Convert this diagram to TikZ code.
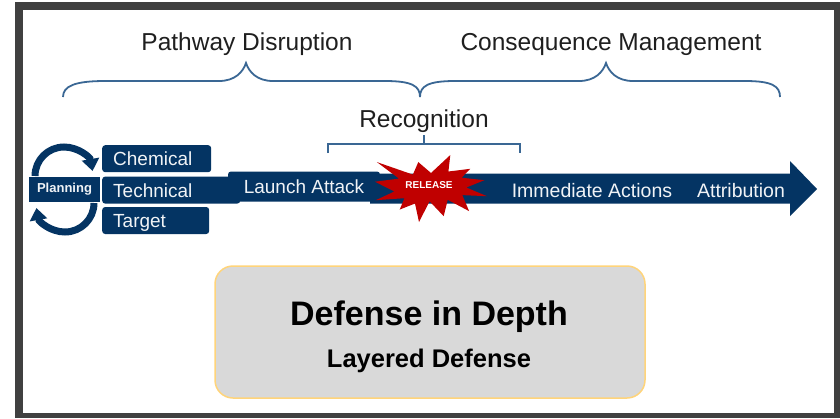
\documentclass[tikz,border=0pt]{standalone}
\usepackage{fontspec}
\setmainfont{Liberation Sans}
\usepackage{tikz}
\usetikzlibrary{positioning}
\usetikzlibrary{arrows.meta}
\definecolor{navy}{HTML}{043463}
\definecolor{braceblue}{HTML}{3A6794}
\definecolor{framegray}{HTML}{404040}
\definecolor{burst}{HTML}{C00000}
\definecolor{boxgray}{HTML}{D9D9D9}
\definecolor{boxedge}{HTML}{FFD47A}
\tikzset{>={Triangle[width=17pt,length=12pt]}}

\begin{document}
\begin{tikzpicture}[x=1pt,y=-1pt]
    \tikzstyle{header} = [font=\fontsize{24.5}{28}\selectfont, text=black!88, anchor=base, inner sep=0pt]
    \tikzstyle{bandtext} = [font=\fontsize{19.5}{22}\selectfont, text=white!94!navy, anchor=base, inner sep=0pt]
    \tikzstyle{catbox} = [fill=navy, rounded corners=3pt, anchor=north west, inner xsep=11pt, inner ysep=0pt, minimum height=27pt, text height=14pt, text depth=0pt, align=left, font=\fontsize{19}{20}\selectfont, text=white!94!navy]
    \tikzstyle{curly} = [draw=braceblue, line width=1.8pt]
    \tikzstyle{loopback} = [navy, line width=7pt, ->]

    \useasboundingbox (0,0) rectangle (840,418);
    % frame
    \fill[framegray] (15,2) rectangle (840,418);
    \fill[white] (23,10) rectangle (834,413);

    \node[header] (pathway) at (247,50) {Pathway Disruption};
    \node[header] (consequence) at (611,50) {Consequence Management};
    \node[header] (recognition) at (424,127) {Recognition};

    % braces
    \draw[curly] (63,97) .. controls (63,86) and (75,81) .. (105,81) -- (219,81)
      .. controls (235,81) and (243,72) .. (246,63) .. controls (249,72) and (257,81) .. (273,81)
      -- (385,81) .. controls (412,81) and (420,86) .. (420,97);
    \draw[curly] (420,97) .. controls (420,86) and (428,81) .. (455,81) -- (579,81)
      .. controls (595,81) and (603,72) .. (606,63) .. controls (609,72) and (617,81) .. (633,81)
      -- (745,81) .. controls (772,81) and (780,86) .. (780,97);
    \draw[draw=braceblue, line width=1.5pt] (328,153) |- (520,144) -- (520,153) (424,144) -- (424,135);

    % planning loop
    \node[fill=navy, minimum width=71pt, minimum height=25pt, inner sep=0pt, font=\bfseries\fontsize{13}{14}\selectfont, text=white!94!navy] (planning) at (64.5,189.5) {Planning};
    \draw[loopback] (35,176) arc[start angle=180, end angle=350, radius=29];
    \draw[loopback] (94,203) arc[start angle=0, end angle=170, radius=29];

    \node[catbox, text width=87pt] (chemical) at (102,145) {Chemical};
    \node[catbox, text width=116pt, below=4pt of chemical.south west, anchor=north west] (technical) {Technical};
    \node[catbox, text width=85pt, below=3pt of technical.south west, anchor=north west] (target) {Target};

    % timeline arrow
    \fill[navy] (370,173.5) -- (790,173.5) -- (790,161) -- (817,189) -- (790,216) -- (790,203.5) -- (370,203.5) -- cycle;
    \node[fill=navy, rounded corners=3pt, minimum width=152pt, minimum height=30pt, inner sep=0pt, font=\fontsize{19}{20}\selectfont, text=white!94!navy] (launch) at (304,186.5) {Launch Attack};
    \node[bandtext] (immediate) at (592,197) {Immediate Actions};
    \node[bandtext] (attribution) at (741,197) {Attribution};

    \fill[burst] (431,173) -- (450.3,155) -- (448.4,171.5) -- (470.3,168.8) -- (461.6,177.7) -- (484.4,180.2)
      -- (466.3,187.5) -- (487,196.2) -- (462.3,195.1) -- (469.1,211.1) -- (447.7,199.8) -- (443.7,216.2)
      -- (429.6,201.3) -- (419,222) -- (415,203.5) -- (399.7,209.6) -- (404.4,198.2) -- (375.7,200.2)
      -- (394.3,191.5) -- (375,181.7) -- (399,178.6) -- (376.9,162.1) -- (412.9,174.6) -- (418.3,162.1) -- cycle;
    \node[font=\bfseries\fontsize{10}{11}\selectfont, text=white, inner sep=0pt] (release) at (429,185) {RELEASE};

    \node[draw=boxedge, fill=boxgray, line width=1.5pt, rounded corners=18pt, minimum width=430pt, minimum height=132pt] (defense) at (430,332) {};
    \node[anchor=base, font=\bfseries\fontsize{34}{38}\selectfont] (depth) at (429,325) {Defense in Depth};
    \node[anchor=base, font=\bfseries\fontsize{25.5}{28}\selectfont] (layered) at (429,367) {Layered Defense};
\end{tikzpicture}
\end{document}
